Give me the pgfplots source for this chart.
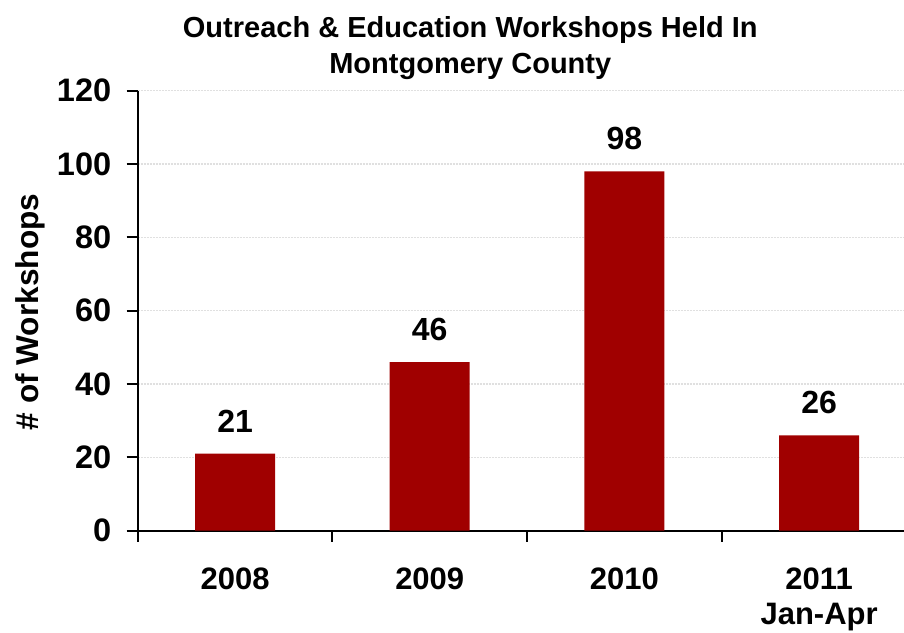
\documentclass[border=0pt]{standalone}
\usepackage{pgfplots}
\pgfplotsset{compat=1.18}
\usepackage{fontspec}
\setmainfont{Liberation Sans}
\definecolor{barred}{HTML}{A00000}
\begin{document}
\begin{tikzpicture}
\path[use as bounding box] (0,0) rectangle (904pt,632pt);
\begin{axis}[
  at={(137.7pt,101.3pt)}, anchor=south west,
  scale only axis, width=766.3pt, height=440pt,
  xmin=-0.5, xmax=3.436, ymin=0, ymax=120,
  axis x line=bottom, axis y line=left,
  axis line style={-, line width=1.8pt, black},
  tick align=outside,
  major tick length=11pt,
  tick style={line width=1.8pt, black},
  ytick={0,20,...,120},
  xtick={-0.5,0.5,1.5,2.5,3.5},
  xticklabels={},
  extra x ticks={0,1,2,3},
  extra x tick labels={2008,2009,2010,{2011\\Jan-Apr}},
  extra x tick style={major tick length=0pt, tick style={draw=none},
    tick label style={align=center, font=\bfseries\fontsize{31}{35}\selectfont, yshift=-34pt}},
  /pgf/number format/assume math mode=true,
  y tick label style={font=\bfseries\fontsize{32.5}{38}\selectfont, xshift=-12pt},
  ymajorgrids,
  major grid style={draw=black!12, line width=1.2pt, dash pattern=on 2pt off 1pt},
  title={Outreach \& Education Workshops Held In\\Montgomery County},
  title style={at={(axis description cs:0.434,1.083)}, anchor=center, align=center,
    font=\bfseries\fontsize{29}{36.6}\selectfont},
  ylabel={\# of Workshops},
  ylabel style={at={(axis description cs:-0.1406,0.497)}, anchor=center,
    font=\bfseries\fontsize{31.6}{38}\selectfont},
  nodes near coords,
  every node near coord/.append style={font=\bfseries\fontsize{32}{38}\selectfont, inner sep=0pt, yshift=21pt, anchor=south},
]
\addplot[ybar, bar width=80pt, fill=barred, draw=none] coordinates {(0,21) (1,46) (2,98) (3,26)};
\end{axis}
\end{tikzpicture}
\end{document}
